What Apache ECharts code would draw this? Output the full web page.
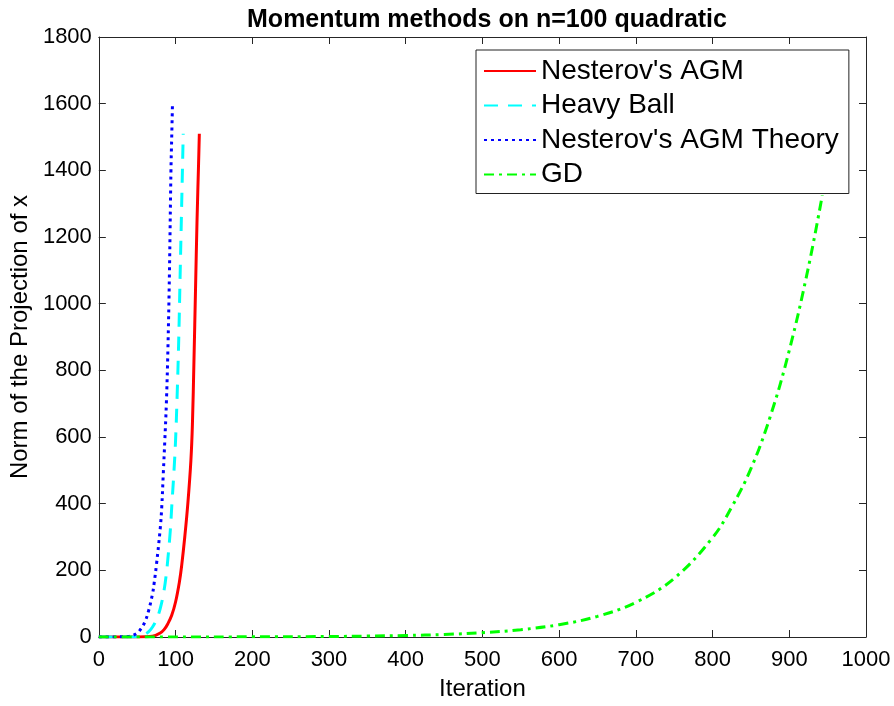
<!DOCTYPE html>
<html>
<head>
<meta charset="utf-8">
<script src="https://cdn.jsdelivr.net/npm/echarts@6/dist/echarts.min.js"></script>
<style>html,body{margin:0;padding:0;background:#fff}#c{width:894px;height:706px}</style>
</head>
<body>
<div id="c"></div>
<script>
const titleText = "Momentum methods on n=100 quadratic";
const xName = "Iteration";
const yName = "Norm of the Projection of x";
const seriesNames = ["Nesterov's AGM", "Heavy Ball", "Nesterov's AGM Theory", "GD"];

const nesterovIter = [0, 40, 60, 70, 80, 85, 90, 95, 100, 105, 108, 112, 116, 120, 122, 124, 126, 128, 130, 131];
const nesterovVal  = [0, 0, 0.5, 2, 12, 22, 40, 65, 105, 165, 215, 300, 400, 530, 640, 830, 1040, 1250, 1420, 1510];

const heavyIter = [0, 40, 50, 55, 60, 65, 70, 75, 80, 85, 88, 90, 93, 95, 98, 100, 102, 104, 106, 108, 110];
const heavyVal  = [0, 0, 1, 3, 8, 16, 30, 52, 85, 140, 190, 235, 315, 390, 500, 590, 720, 880, 1090, 1300, 1510];

const theoryIter = [0, 30, 40, 50, 55, 60, 65, 70, 72, 75, 80, 82, 84, 86, 88, 90, 92, 94, 95, 96];
const theoryVal  = [0, 0.5, 2, 12, 25, 45, 80, 130, 160, 215, 325, 390, 490, 590, 700, 860, 1090, 1400, 1500, 1600];

const gdIter = [0, 100, 200, 300, 350, 400, 450, 500, 550, 600, 650, 700, 750, 800, 825, 850, 875, 900, 925, 943];
const gdVal  = [0.1, 0.2, 0.5, 1.5, 2.7, 4.5, 7.6, 13, 22, 37, 62, 104, 176, 298, 390, 505, 660, 860, 1110, 1325];

const xTicks = [0, 100, 200, 300, 400, 500, 600, 700, 800, 900, 1000];
const yTicks = [0, 200, 400, 600, 800, 1000, 1200, 1400, 1600, 1800];

const pair = (xs, ys) => xs.map((x, i) => [x, ys[i]]);
const FONT = "'Liberation Sans', Arial, Helvetica, sans-serif";
const axisColor = '#262626';

const chart = echarts.init(document.getElementById('c'), null, {renderer: 'canvas'});
const baseAxis = {
  axisLine: {show: true, onZero: false, lineStyle: {color: axisColor, width: 1}},
  axisTick: {show: true, inside: true, length: 7, lineStyle: {color: axisColor}},
  splitLine: {show: false}
};
function mk(name, xs, ys, color, type) {
  return {
    name: name, type: 'line', data: pair(xs, ys),
    showSymbol: false, symbol: 'none', smooth: 0.4,
    lineStyle: {color: color, width: 3, type: type},
    itemStyle: {color: color},
    xAxisIndex: 0, yAxisIndex: 0
  };
}
chart.setOption({
  animation: false,
  backgroundColor: '#fff',
  title: {
    text: titleText, left: 482, top: 3, textAlign: 'center',
    textStyle: {fontFamily: FONT, fontSize: 25, fontWeight: 'bold', color: '#000'}
  },
  grid: {left: 97, right: 28, top: 37, bottom: 65, containLabel: false},
  legend: {
    orient: 'vertical', left: 476, top: 50,
    backgroundColor: '#fff', borderColor: '#222', borderWidth: 1,
    padding: [6, 10, 4, 7], itemGap: 4.5, itemWidth: 52, itemHeight: 20,
    itemStyle: {opacity: 0},
    data: seriesNames,
    textStyle: {fontFamily: FONT, fontSize: 28, color: '#000', lineHeight: 30}
  },
  xAxis: [
    Object.assign({}, baseAxis, {
      type: 'value', min: 0, max: 1000, interval: 100, position: 'bottom',
      name: xName, nameLocation: 'middle', nameGap: 40,
      nameTextStyle: {fontFamily: FONT, fontSize: 24, color: '#000'},
      axisLabel: {fontFamily: FONT, fontSize: 22, color: '#000', margin: 12,
        formatter: v => xTicks.includes(v) ? String(v) : ''}
    }),
    Object.assign({}, baseAxis, {
      type: 'value', min: 0, max: 1000, interval: 100, position: 'top',
      axisLabel: {show: false}
    })
  ],
  yAxis: [
    Object.assign({}, baseAxis, {
      type: 'value', min: 0, max: 1800, interval: 200, position: 'left',
      name: yName, nameLocation: 'middle', nameGap: 64, nameRotate: 90,
      nameTextStyle: {fontFamily: FONT, fontSize: 24, color: '#000'},
      axisLabel: {fontFamily: FONT, fontSize: 22, color: '#000', margin: 7,
        formatter: v => yTicks.includes(v) ? String(v) : ''}
    }),
    Object.assign({}, baseAxis, {
      type: 'value', min: 0, max: 1800, interval: 200, position: 'right',
      axisLabel: {show: false}
    })
  ],
  series: [
    mk(seriesNames[0], nesterovIter, nesterovVal, '#ff0000', 'solid'),
    mk(seriesNames[1], heavyIter, heavyVal, '#00ffff', [14, 10]),
    mk(seriesNames[2], theoryIter, theoryVal, '#0000ff', [3, 4]),
    mk(seriesNames[3], gdIter, gdVal, '#00ff00', [10, 5, 3, 5])
  ]
});
</script>
</body>
</html>
